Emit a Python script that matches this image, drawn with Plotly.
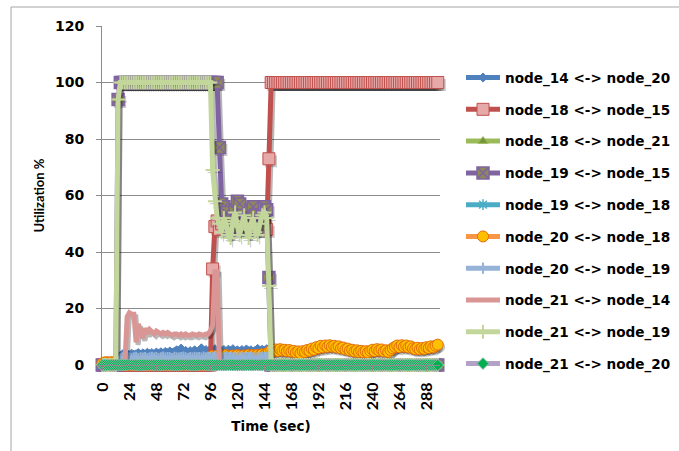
import plotly.graph_objects as go

# ---------------- data ----------------
time_sec = list(range(0, 300, 2))
x_tick_vals = [0, 24, 48, 72, 96, 120, 144, 168, 192, 216, 240, 264, 288]
x_tick_labels = ["0", "24", "48", "72", "96", "120", "144", "168", "192", "216", "240", "264", "288"]
y_tick_vals = [0, 20, 40, 60, 80, 100, 120]

series_names = [
    "node_14 <-> node_20", "node_18 <-> node_15", "node_18 <-> node_21",
    "node_19 <-> node_15", "node_19 <-> node_18", "node_20 <-> node_18",
    "node_20 <-> node_19", "node_21 <-> node_14", "node_21 <-> node_19",
    "node_21 <-> node_20",
]

node_14_20 = [0] * 7 + [2.5] + [
    3.2, 3.8, 3.5, 3.9, 3.4, 4.0, 3.6, 3.8, 4.2, 3.7,
    4.1, 3.8, 4.3, 3.9, 4.2, 3.8, 4.4, 4.0, 4.5, 4.1,
    4.6, 4.2, 4.8, 4.3, 4.7, 5.2, 4.5, 5.8, 4.6, 5.0,
    4.4, 4.9, 4.5, 5.2, 4.6, 5.0, 5.9, 4.7, 5.3, 4.8,
    5.4, 5.0, 5.6, 4.9, 5.5, 4.8, 5.3, 4.7, 5.4, 4.9,
    5.6, 4.8, 5.2, 4.6, 5.3, 4.8, 5.5, 4.9, 5.2, 4.6,
    5.1, 5.7, 4.9, 5.4, 5.0, 5.6, 4.8] + [0] * 75

node_18_15 = [0] * 49 + [
    34, 49, 51, 48, 50, 53, 55, 52, 49, 50, 54, 56, 55,
    52, 49, 50, 54, 55, 52, 49, 48, 51, 54, 50, 48, 73] + [100] * 75

node_18_21 = [0] * 150

node_19_15 = [0] * 7 + [94] + [100] * 44 + [
    77, 57, 56, 54, 50, 48, 52, 55, 58, 57, 53, 50,
    48, 52, 55, 56, 53, 50, 49, 53, 56, 55, 31] + [0] * 75

node_19_18 = [0] * 150

node_20_18 = [0.6, 0.9, 1.0, 0.8, 1.0, 0.9, 0.4] + [0] * 41 + [
    2.8, 3.2, 2.9, 3.3, 3.0, 3.4, 3.1, 3.5, 3.2, 3.0,
    3.4, 3.1, 3.5, 3.3, 3.0, 3.4, 3.2, 3.6, 3.3, 3.5,
    3.2, 3.6, 3.4, 3.8, 3.5, 4.0, 4.6] + [
    5.2, 4.8, 5.5, 5.0, 5.6, 5.1, 5.4, 4.9, 5.3, 4.7,
    5.0, 4.4, 4.8, 4.2, 4.9, 4.6, 5.3, 5.0, 5.8, 5.4,
    6.3, 5.9, 6.8, 6.2, 6.9, 6.4, 7.0, 6.5, 6.8, 6.2,
    6.6, 5.9, 6.2, 5.5, 5.8, 5.1, 5.4, 4.8, 5.2, 4.6,
    5.0, 4.5, 4.9, 4.4, 5.0, 5.4, 4.9, 5.6, 5.1, 5.5,
    4.8, 5.2, 4.6, 5.3, 5.9, 6.4, 6.9, 6.3, 7.0, 6.5,
    6.9, 6.2, 6.6, 5.9, 5.6, 6.1, 5.5, 6.0, 5.7, 6.3,
    6.0, 6.6, 6.2, 6.8, 7.2]

node_20_19 = [0] * 7 + [1.5] + [
    2.2, 2.5, 2.3, 2.6, 2.4, 2.2, 2.5, 2.7, 2.3, 2.5,
    2.4, 2.6, 2.3, 2.5, 2.7, 2.4, 2.6, 2.3, 2.5, 2.8,
    2.4, 2.6, 2.5, 2.3, 2.7, 2.5, 2.4, 2.6, 2.8, 2.5,
    2.3, 2.6, 2.4, 2.7, 2.5, 2.6, 2.4, 2.8, 2.5, 2.7,
    2.4, 2.6, 2.9, 2.5, 2.7, 2.4, 2.6, 2.8, 2.5, 2.7,
    2.4, 2.6, 2.5, 2.8, 2.6, 2.4, 2.7, 2.5, 2.8, 2.6,
    2.4, 2.7, 2.5, 2.8, 2.6, 2.7, 2.5] + [0] * 75

node_21_14 = [0] * 11 + [
    17, 18.5, 18, 18, 8, 14.5, 12, 9.5, 13, 11,
    12.5, 11.5, 11, 12, 11.5, 11, 11.5, 11, 11.5, 11,
    10.5, 11, 11, 10.5, 11, 10.5, 11, 10.5, 10.5, 11,
    10.5, 10.5, 11, 10.5, 10.5, 11, 11, 12, 14, 33,
    33, 0] + [0] * 97

node_21_19 = [0] * 7 + [94] + [100] * 41 + [
    69, 58, 52, 50, 47, 52, 50, 46, 45, 51,
    54, 49, 46, 50, 53, 48, 45, 50, 52, 47,
    46, 50, 53, 54, 52, 28] + [0] * 75

node_21_20 = [0] * 150

series_values = [node_14_20, node_18_15, node_18_21, node_19_15, node_19_18,
                 node_20_18, node_20_19, node_21_14, node_21_19, node_21_20]
for v in series_values:
    assert len(v) == len(time_sec), len(v)

# ---------------- styles ----------------
styles = [
    dict(line="#4F81BD", symbol="diamond", size=7, fill="#4F81BD", edge="#4F81BD", ew=1),
    dict(line="#C0504D", symbol="square", size=12, fill="#E6A9A8", edge="#C0504D", ew=1),
    dict(line="#9BBB59", symbol="triangle-up", size=9, fill="#77933C", edge="#9BBB59", ew=1),
    dict(line="#8064A2", symbol="square-x", size=12, fill="#8E8A57", edge="#8064A2", ew=1.5),
    dict(line="#4BACC6", symbol="asterisk-open", size=9, fill="#4BACC6", edge="#4BACC6", ew=1.5),
    dict(line="#F79646", symbol="circle", size=11, fill="#FFC000", edge="#E46C0A", ew=1),
    dict(line="#95B3D7", symbol="cross-thin-open", size=8, fill="#95B3D7", edge="#95B3D7", ew=2),
    dict(line="#D99694", symbol=None),
    dict(line="#C3D69B", symbol="cross-thin-open", size=10, fill="#C3D69B", edge="#C3D69B", ew=2),
    dict(line="#B3A2C7", symbol="diamond", size=9, fill="#00B050", edge="#8DB8A8", ew=1),
]
LINE_W = 5

W, H = 679, 451
ML, MR, MT, MB = 102, 239, 26, 86
PW, PH = W - ML - MR, H - MT - MB
X_RANGE = [-0.3, 300]
Y_RANGE = [0, 120]


def px_x(px):
    return (px - ML) / PW


def px_y(py):
    return (H - MB - py) / PH


shadow_dx = 2 * (X_RANGE[1] - X_RANGE[0]) / PW
shadow_dy = 2.5 * (Y_RANGE[1] - Y_RANGE[0]) / PH

fig = go.Figure()
for i, (name, vals, st) in enumerate(zip(series_names, series_values, styles)):
    has_marker = st["symbol"] is not None
    # soft drop shadow (offset copy of the series)
    fig.add_trace(go.Scatter(
        x=[t + shadow_dx for t in time_sec], y=[v - shadow_dy for v in vals],
        mode="lines+markers" if has_marker else "lines",
        line=dict(color="rgba(0,0,0,0.28)", width=LINE_W),
        marker=dict(symbol=st["symbol"], size=st["size"], color="rgba(0,0,0,0.22)",
                    line=dict(width=0, color="rgba(0,0,0,0)")) if has_marker else None,
        showlegend=False, hoverinfo="skip", cliponaxis=False, legendgroup=f"g{i}",
    ))
    fig.add_trace(go.Scatter(
        x=time_sec, y=vals, name=name,
        mode="lines+markers" if has_marker else "lines",
        line=dict(color=st["line"], width=LINE_W),
        marker=dict(symbol=st["symbol"], size=st["size"], color=st["fill"],
                    line=dict(width=st["ew"], color=st["edge"])) if has_marker else None,
        cliponaxis=False, legendgroup=f"g{i}",
    ))

fig.update_layout(
    width=W, height=H,
    margin=dict(l=ML, r=MR, t=MT, b=MB, autoexpand=False),
    paper_bgcolor="white", plot_bgcolor="white",
    showlegend=True,
    legend=dict(
        x=px_x(461), y=px_y(62.2), xanchor="left", yanchor="top",
        font=dict(family="DejaVu Sans", size=13.6, color="black", weight="bold"),
        tracegroupgap=11.1, bgcolor="rgba(0,0,0,0)",
        itemsizing="trace", itemwidth=34,
    ),
    xaxis=dict(
        range=X_RANGE, tickmode="array", tickvals=x_tick_vals, ticktext=x_tick_labels,
        tickangle=-90, showgrid=False, zeroline=False,
        showline=True, linecolor="#8C8C8C", linewidth=1,
        ticks="outside", ticklen=5, tickcolor="#8C8C8C", ticklabelstandoff=5,
        tickfont=dict(family="Lato", size=16, color="black", weight="bold"),
        title=dict(text="Time (sec)", standoff=12,
                   font=dict(family="DejaVu Sans", size=13.5, color="black", weight="bold")),
    ),
    yaxis=dict(
        range=Y_RANGE, tickmode="array", tickvals=y_tick_vals,
        showgrid=True, gridcolor="#8C8C8C", gridwidth=1, zeroline=False,
        showline=True, linecolor="#8C8C8C", linewidth=1,
        ticks="outside", ticklen=5, tickcolor="#8C8C8C", ticklabelstandoff=9,
        tickfont=dict(family="DejaVu Sans", size=14, color="black", weight="bold"),
        title=dict(text="Utilization %", standoff=7,
                   font=dict(family="Lato", size=13, color="black", weight="bold")),
    ),
    shapes=[dict(type="rect", xref="paper", yref="paper",
                 x0=px_x(11), y0=px_y(7), x1=px_x(720), y1=px_y(480),
                 line=dict(color="#A6A6A6", width=1), fillcolor="rgba(0,0,0,0)", layer="below")],
)

fig.write_html("out.html", config={"displayModeBar": False},
               post_script="document.body.style.margin='0';document.body.style.overflow='hidden';")
